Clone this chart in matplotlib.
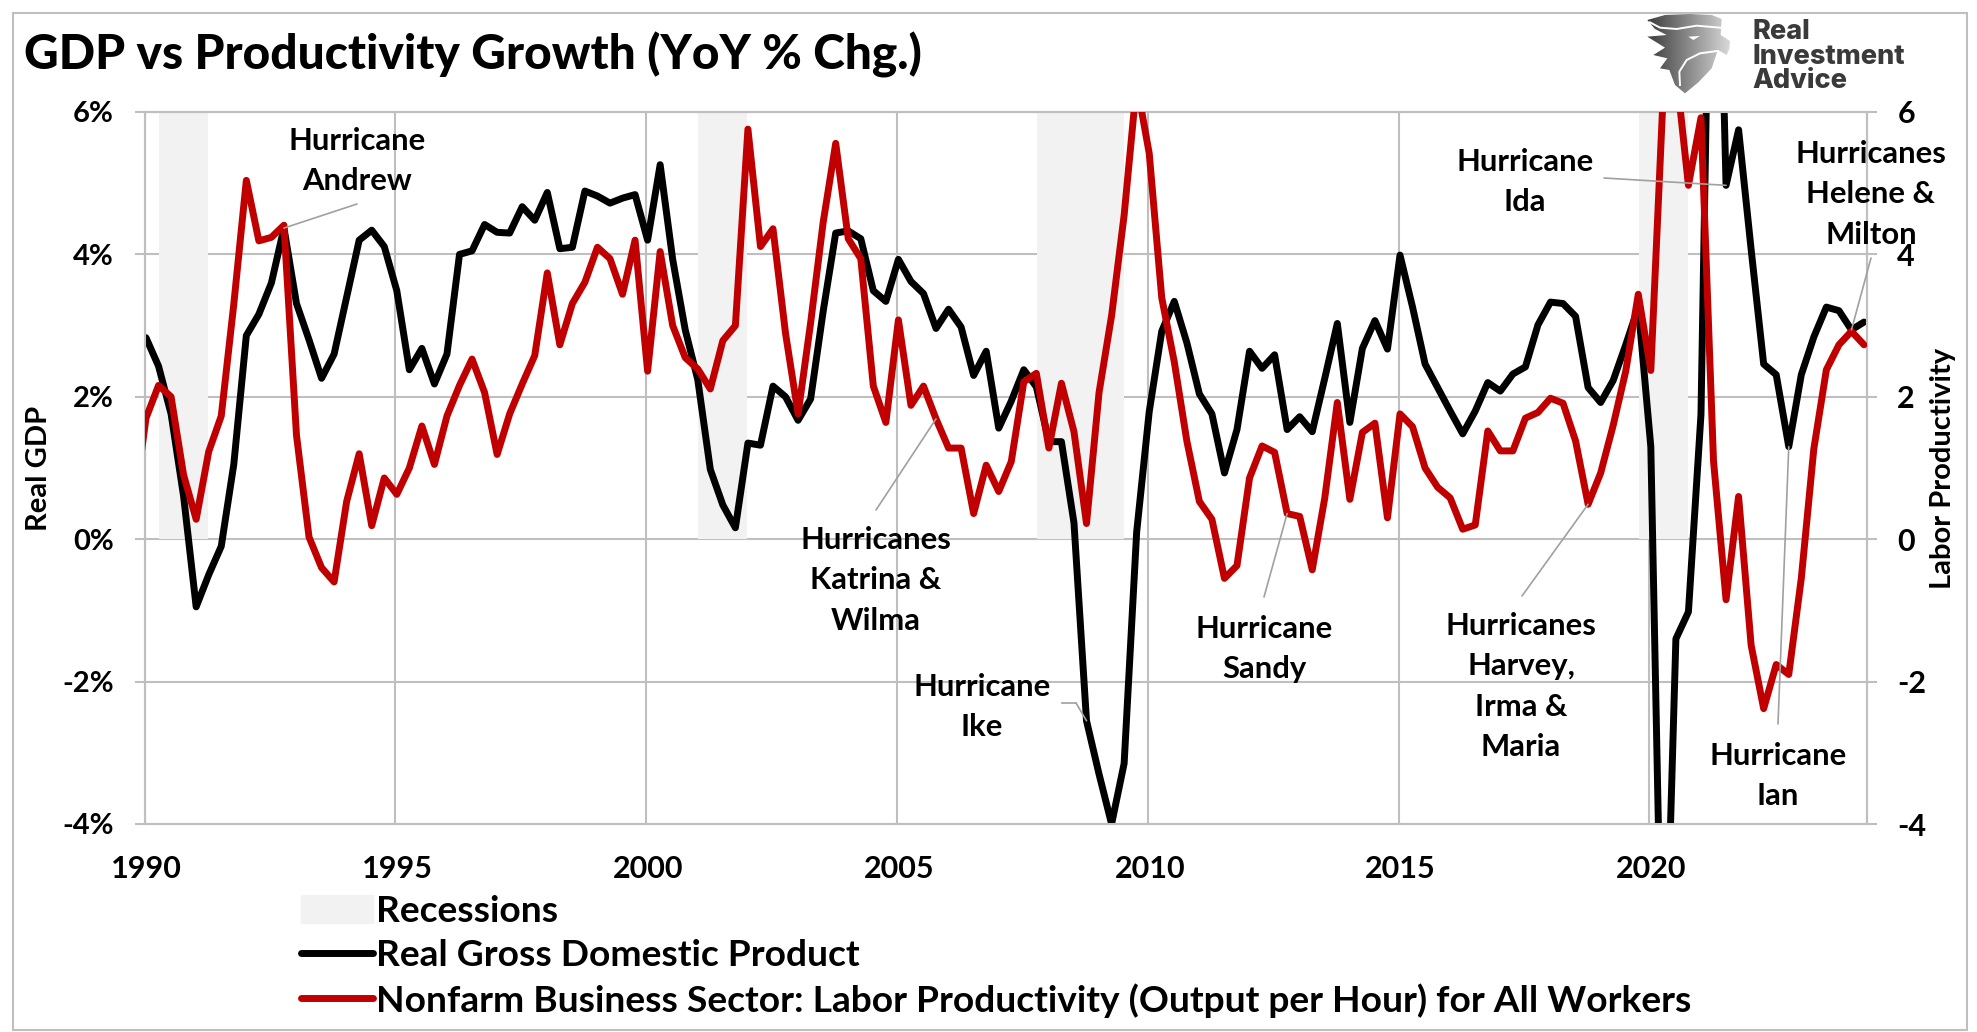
import numpy as np
import matplotlib
matplotlib.use("Agg")
import matplotlib.pyplot as plt
from matplotlib.colors import LinearSegmentedColormap
from matplotlib.lines import Line2D
from matplotlib.patches import Patch, Polygon, Rectangle
from matplotlib.transforms import ScaledTranslation

W, H = 1977, 1032

# quarterly YoY values, 1990Q1 onward
gdp = [2.83, 2.43, 1.76, 0.6, -0.95, -0.5, -0.1, 1.05, 2.86, 3.16,
       3.6, 4.37, 3.31, 2.8, 2.26, 2.6, 3.4, 4.2, 4.34, 4.11,
       3.49, 2.38, 2.68, 2.18, 2.6, 4.0, 4.05, 4.42, 4.31, 4.3,
       4.67, 4.48, 4.87, 4.08, 4.1, 4.89, 4.82, 4.72, 4.79, 4.84,
       4.2, 5.26, 3.93, 2.94, 2.24, 0.98, 0.48, 0.16, 1.35, 1.32,
       2.15, 2.0, 1.67, 1.97, 3.2, 4.3, 4.33, 4.22, 3.49, 3.34,
       3.93, 3.62, 3.45, 2.96, 3.23, 2.98, 2.3, 2.64, 1.56, 1.94,
       2.38, 2.14, 1.37, 1.37, 0.23, -2.55, -3.3, -4.0, -3.15, 0.1,
       1.79, 2.92, 3.34, 2.76, 2.04, 1.76, 0.93, 1.54, 2.64, 2.4,
       2.59, 1.54, 1.72, 1.51, 2.26, 3.03, 1.64, 2.68, 3.07, 2.67,
       3.99, 3.26, 2.46, 2.13, 1.8, 1.48, 1.8, 2.2, 2.08, 2.32,
       2.42, 3.01, 3.33, 3.31, 3.13, 2.13, 1.92, 2.23, 2.73, 3.26,
       1.3, -7.5, -1.4, -1.02, 1.75, 12.0, 4.97, 5.75, 4.07, 2.46,
       2.31, 1.3, 2.31, 2.84, 3.26, 3.21, 2.94, 3.05]

productivity = [1.7, 2.16, 2.0, 0.9, 0.28, 1.23, 1.73, 3.3, 5.04, 4.19,
                4.24, 4.41, 1.46, 0.03, -0.4, -0.6, 0.53, 1.2, 0.19, 0.86,
                0.63, 1.0, 1.59, 1.05, 1.73, 2.16, 2.53, 2.06, 1.19, 1.76,
                2.18, 2.58, 3.74, 2.73, 3.31, 3.61, 4.1, 3.94, 3.44, 4.2,
                2.36, 4.04, 3.0, 2.55, 2.39, 2.11, 2.79, 3.0, 5.76, 4.11,
                4.36, 2.89, 1.76, 3.04, 4.45, 5.56, 4.22, 3.94, 2.15, 1.64,
                3.08, 1.88, 2.15, 1.69, 1.28, 1.28, 0.36, 1.04, 0.67, 1.09,
                2.21, 2.33, 1.28, 2.19, 1.51, 0.22, 2.06, 3.14, 4.55, 6.4,
                5.42, 3.39, 2.49, 1.38, 0.53, 0.28, -0.55, -0.37, 0.86, 1.31,
                1.22, 0.36, 0.32, -0.43, 0.58, 1.92, 0.56, 1.5, 1.63, 0.3,
                1.76, 1.58, 1.0, 0.73, 0.58, 0.14, 0.2, 1.52, 1.24, 1.24,
                1.7, 1.78, 1.98, 1.91, 1.38, 0.49, 0.93, 1.6, 2.36, 3.44,
                2.37, 6.3, 6.6, 4.97, 5.92, 1.1, -0.85, 0.6, -1.49, -2.38,
                -1.76, -1.9, -0.55, 1.27, 2.38, 2.73, 2.92, 2.73]
productivity_before_start = 0.4  # 1989Q4, only the stub at the left edge shows

recession_start = [1990.267, 2001.01, 2007.77, 2019.77]
recession_end = [1991.245, 2001.99, 2009.50, 2020.75]

year_ticks = [1990, 1995, 2000, 2005, 2010, 2015, 2020]
left_ticks = [-4, -2, 0, 2, 4, 6]

plt.rcParams["font.family"] = ["Lato", "DejaVu Sans"]
plt.rcParams["font.weight"] = "bold"

GREY = "#BFBFBF"
RED = "#C00000"
LEADER = "#A0A0A0"


def fx(px):
    return px / W


def fy(py):
    return 1 - py / H


fig = plt.figure(figsize=(W / 100, H / 100), dpi=100)
fig.patches.append(Rectangle((fx(13), fy(1030)), fx(1967 - 13), (1030 - 13) / H,
                             transform=fig.transFigure, fill=False, ec=GREY, lw=1.5))

ax = fig.add_axes([fx(144.6), fy(824), fx(1866.5 - 144.6), (824 - 112) / H])
ax2 = ax.twinx()

years = 1990 + np.arange(len(gdp)) / 4
x_lim = (1989.972, 2024.30)
shift = 0.028  # first quarter sits slightly right of the year gridline

for s, e in zip(recession_start, recession_end):
    ax.bar(s, 6, width=e - s, bottom=0, align="edge", color="#F2F2F2", zorder=2)

ax.plot(years, gdp, color="black", lw=5, solid_joinstyle="round", solid_capstyle="round", zorder=3)
ax2.plot(np.r_[1989.75, years], np.r_[productivity_before_start, productivity], color=RED, lw=5,
         solid_joinstyle="round", solid_capstyle="round", zorder=3)

for a in (ax, ax2):
    a.set_xlim(*x_lim)
    a.set_ylim(-4, 6)
    for sp in a.spines.values():
        sp.set_color(GREY)
        sp.set_linewidth(1.5)

ax.set_xticks([y - shift for y in year_ticks])
ax.set_xticklabels([str(y) for y in year_ticks], fontsize=22)
ax.tick_params(axis="x", length=0, pad=22)
for lab in ax.get_xticklabels():
    lab.set_transform(lab.get_transform() + ScaledTranslation(2 / 100, 0, fig.dpi_scale_trans))
ax.set_yticks(left_ticks)
ax.set_yticklabels([f"{v}%" for v in left_ticks], fontsize=21)
ax.tick_params(axis="y", length=7.2, width=1.5, color=GREY, pad=15)
ax.grid(True, color=GREY, lw=1.5)
ax.set_axisbelow(True)

ax2.set_yticks(left_ticks)
ax2.set_yticklabels([str(v) for v in left_ticks], fontsize=22)
ax2.tick_params(axis="y", length=7.2, width=1.5, color=GREY, pad=15)
ax2.patch.set_visible(False)

fig.text(fx(39), fy(468), "Real GDP", rotation=90, ha="center", va="center", fontsize=21)
fig.text(fx(1943), fy(468), "Labor Productivity", rotation=90, ha="center", va="center", fontsize=21)

fig.text(fx(24), fy(55), "GDP vs Productivity Growth (YoY % Chg.)", fontsize=34.5, weight=900,
         ha="left", va="center")

# hurricane notes: text centre x, first line y, then line list
notes = [
    (357, 141, ["Hurricane", "Andrew"]),
    (876, 540, ["Hurricanes", "Katrina &", "Wilma"]),
    (982, 687, ["Hurricane", "Ike"]),
    (1264, 629, ["Hurricane", "Sandy"]),
    (1521, 626, ["Hurricanes", "Harvey,", "Irma &", "Maria"]),
    (1778, 756, ["Hurricane", "Ian"]),
    (1525, 162, ["Hurricane", "Ida"]),
    (1871, 154, ["Hurricanes", "Helene &", "Milton"]),
]
for cx, cy, lines in notes:
    for n, line in enumerate(lines):
        fig.text(fx(cx), fy(cy + n * 40.4), line, ha="center", va="center", fontsize=22.3, zorder=5)

# leaders: (series, quarter index, start px, start py)
leaders = [
    (gdp, 11, 357, 204),
    (productivity, 63, 876, 510),
    (productivity, 91, 1264, 597),
    (productivity, 115, 1522, 596),
    (gdp, 131, 1778, 724),
    (gdp, 126, 1604, 178),
    (gdp, 136, 1871, 258),
    (gdp, 75, 1076, 703),
]
for series, q, px, py in leaders:
    ax2.annotate("", xy=(years[q], series[q]), xycoords="data",
                 xytext=(fx(px), fy(py)), textcoords="figure fraction",
                 arrowprops=dict(arrowstyle="-", color=LEADER, lw=1.2, shrinkA=0, shrinkB=0), zorder=6)
fig.add_artist(Line2D([fx(1062), fx(1076)], [fy(703), fy(703)], color=LEADER, lw=1.2))

handles = [
    Patch(color="#F2F2F2", label="Recessions"),
    Line2D([], [], color="black", lw=5, solid_capstyle="round", label="Real Gross Domestic Product"),
    Line2D([], [], color=RED, lw=5, solid_capstyle="round",
           label="Nonfarm Business Sector: Labor Productivity (Output per Hour) for All Workers"),
]
fig.legend(handles=handles, loc="upper left", bbox_to_anchor=(fx(301), fy(895)), frameon=False,
           fontsize=26.7, handlelength=1.95, handleheight=0.8, handletextpad=0.07, labelspacing=0.3,
           borderpad=0, borderaxespad=0, labelcolor="black")

# logo, traced in the px of a 300x110 box at (1630, 5), three times enlarged
logo = fig.add_axes([fx(1630), fy(115), fx(300), 110 / H], zorder=4)
logo.axis("off")
outline = np.array([(52, 45), (105, 30), (180, 27), (245, 30), (275, 42), (272, 90), (300, 108), (298, 132),
                    (290, 150), (265, 135), (262, 140), (245, 190), (205, 232), (165, 265), (135, 240),
                    (118, 195), (90, 190), (112, 160), (70, 150), (105, 128), (52, 95), (110, 90), (75, 72)]) / 3
grad = np.linspace(0, 1, 100).reshape(1, -1)
im = logo.imshow(grad, extent=(17, 100, 90, 8), aspect="auto",
                 cmap=LinearSegmentedColormap.from_list("logo", ["#3C3C3C", "#D8D8D8"]))
clip = Polygon(outline, transform=logo.transData, fc="none", ec="none")
logo.add_patch(clip)
im.set_clip_path(clip)
for cut in ([(60, 52), (90, 68), (140, 72), (200, 62), (270, 68)], [(150, 240), (148, 200), (170, 165), (210, 145), (262, 138)]):
    logo.plot(*(np.array(cut).T / 3), color="white", lw=1.4)
logo.add_patch(Polygon(np.array([(175, 95), (210, 93), (190, 105)]) / 3, fc="white", ec="none"))
logo.set_xlim(0, 300)
logo.set_ylim(110, 0)
for y, t in zip([27, 52, 76], ["Real", "Investment", "Advice"]):
    logo.text(122, y, t, color="#3A3A3A", fontsize=19.5, family="Inter", weight="heavy", ha="left", va="center")

fig.savefig("out.png", dpi=100)
